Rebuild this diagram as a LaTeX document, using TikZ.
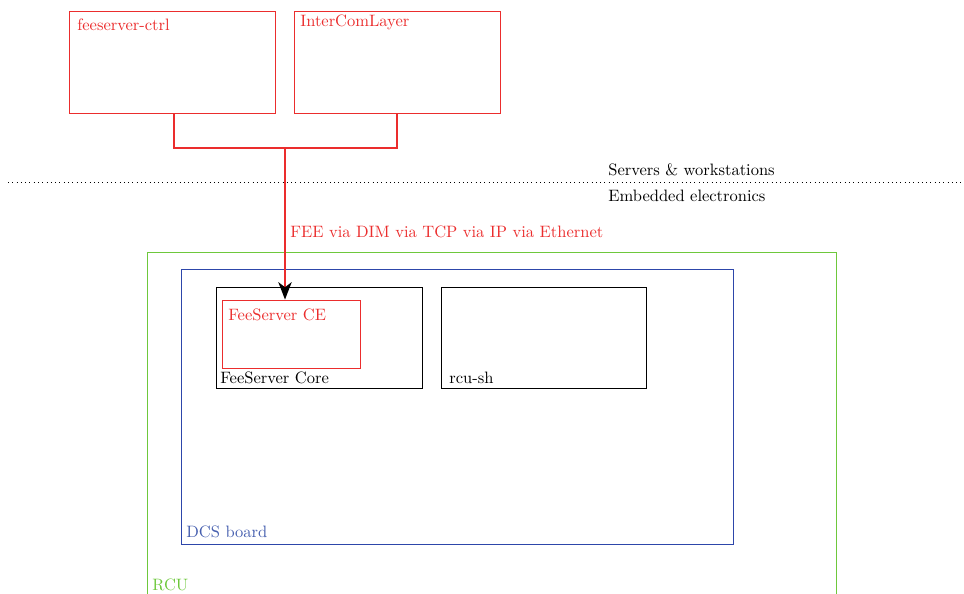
\documentclass[tikz,border=0pt]{standalone}
\usetikzlibrary{fit,arrows.meta}
\definecolor{cred}{RGB}{235,45,45}
\definecolor{cgreen}{RGB}{110,200,60}
\definecolor{cblue}{RGB}{45,70,170}
\definecolor{cbluetext}{RGB}{70,95,175}
\begin{document}
\begin{tikzpicture}[x=0.606pt,y=-0.606pt,
  box/.style={draw,line width=0.5pt,inner sep=0pt,fit={#1}},
  lbl/.style={anchor=base west,inner sep=0pt,font=\normalsize},
  link/.style={draw=cred,line width=1.6pt}]
\useasboundingbox (0,0) rectangle (964,593);
\clip (0,0) rectangle (964,593);
% top boxes
\node[box={(69,11) (275,113)},draw=cred] (fc) {};
\node[lbl,text=cred] (fcl) at (77,30) {feeserver-ctrl};
\node[box={(294,11) (500,113)},draw=cred] (icl) {};
\node[lbl,text=cred] (icll) at (300,26) {InterComLayer};
% separator
\coordinate (sepl) at (8,182);
\coordinate (sepr) at (964,182);
\draw[dotted,line width=0.6pt] (sepl) -- (sepr);
\node[lbl] (srv) at (608,175) {Servers \& workstations};
\node[lbl] (emb) at (608,201) {Embedded electronics};
% RCU
\node[box={(147,252) (836,640)},draw=cgreen] (rcu) {};
\node[lbl,text=cgreen] (rcul) at (152,590) {RCU};
% DCS board
\node[box={(181,269) (733,544)},draw=cblue] (dcs) {};
\node[lbl,text=cbluetext] (dcsl) at (186,537) {DCS board};
% FeeServer Core
\node[box={(216,287) (422,388)},draw=black] (core) {};
\node[lbl] (corel) at (220,383) {FeeServer Core};
\node[box={(441,287) (646,388)},draw=black] (rsh) {};
\node[lbl] (rshl) at (449,383) {rcu-sh};
\node[box={(222,300) (360,368)},draw=cred] (ce) {};
\node[lbl,text=cred] (cel) at (228,320) {FeeServer CE};
% connector
\coordinate (j) at (285,148);
\draw[link] (fc.south -| 174,0) |- (j) -| (icl.south);
\draw[link,-{Stealth[black,length=10.5pt,width=8pt,inset=3pt]}] (j) -- (j |- ce.north);
\node[lbl,text=cred] (via) at (290,237) {FEE via DIM via TCP via IP via Ethernet};
\end{tikzpicture}
\end{document}
